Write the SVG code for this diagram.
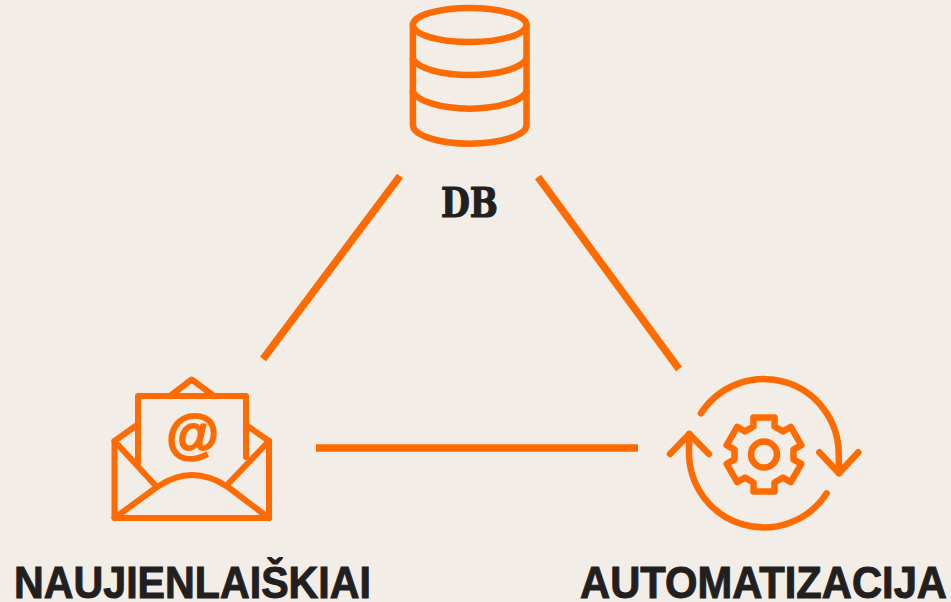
<svg xmlns="http://www.w3.org/2000/svg" width="951" height="602" viewBox="0 0 951 602">
<style>
.ic{fill:none;stroke:#ff6b00;stroke-linecap:round;stroke-linejoin:round}
.cn{fill:none;stroke:#ff6b00;stroke-width:7.5}
.lb{font-family:"Liberation Sans",Arial,sans-serif;font-weight:700;font-size:45px;fill:#231f20;stroke:#231f20;stroke-width:1}
</style>
<rect width="951" height="602" fill="#f2ede7"/>
<g id="connectors">
<line class="cn" x1="400" y1="176" x2="263" y2="359"/>
<line class="cn" x1="538" y1="177" x2="679" y2="369"/>
<line class="cn" x1="316" y1="448" x2="638" y2="448"/>
</g>
<g id="db">
<g class="ic" stroke-width="6.5">
<ellipse cx="469.7" cy="25" rx="56.8" ry="17"/>
<path d="M412.9 25V125C412.9 135 438 143.7 469.7 143.7S526.5 135 526.5 125V25"/>
<path d="M412.9 59C418 68 440 75 469.7 75S521 68 526.5 59"/>
<path d="M412.9 92C418 101 440 108.7 469.7 108.7S521 101 526.5 92"/>
</g>
<text x="441" y="217" textLength="57" lengthAdjust="spacingAndGlyphs" font-family="'DejaVu Serif','Liberation Serif',serif" font-weight="700" font-size="41" fill="#231f20" stroke="#231f20" stroke-width="1.2">DB</text>
</g>
<g id="newsletters">
<g class="ic" stroke-width="6">
<path d="M138 465V396H246V457"/>
<path d="M170 396L191.7 379.5L214 396"/>
<path d="M137 425L114.5 441V518H269V441L246 425"/>
<path d="M114.5 441L155 485M269 441L228 484"/>
<path d="M114.5 518L157 487Q175 475 192 475Q210 475 228 487L269 518"/>
</g>
<text x="192.5" y="452" text-anchor="middle" font-family="'Liberation Sans',Arial,sans-serif" font-weight="700" font-size="54" fill="#ff6b00" stroke="#ff6b00" stroke-width="2">@</text>
<text class="lb" x="14" y="598" textLength="357" lengthAdjust="spacingAndGlyphs">NAUJIENLAIŠKIAI</text>
</g>
<g id="automation">
<g class="ic" stroke-width="6.5">
<path d="M701 413.3A74.85 74.85 0 0 1 838.7 452.85L839 473"/>
<path d="M819.3 452.3L839 473.3L858.3 452.3"/>
<path d="M826.7 493.3A74.85 74.85 0 0 1 689 452.85L689.3 434"/>
<path d="M670 454L689.3 434L709 454"/>
<circle cx="764" cy="454.5" r="13"/>
<path transform="translate(764 454.5)" d="M-10.5-28V-37H10.5V-28L19-23.1L26.8-27.6L37.3-9.4L29.5-4.9V4.9L37.3 9.4L26.8 27.6L19 23.1L10.5 28V37H-10.5V28L-19 23.1L-26.8 27.6L-37.3 9.4L-29.5 4.9V-4.9L-37.3-9.4L-26.8-27.6L-19-23.1Z"/>
</g>
<text class="lb" x="580" y="598" textLength="367" lengthAdjust="spacingAndGlyphs">AUTOMATIZACIJA</text>
</g>
</svg>
